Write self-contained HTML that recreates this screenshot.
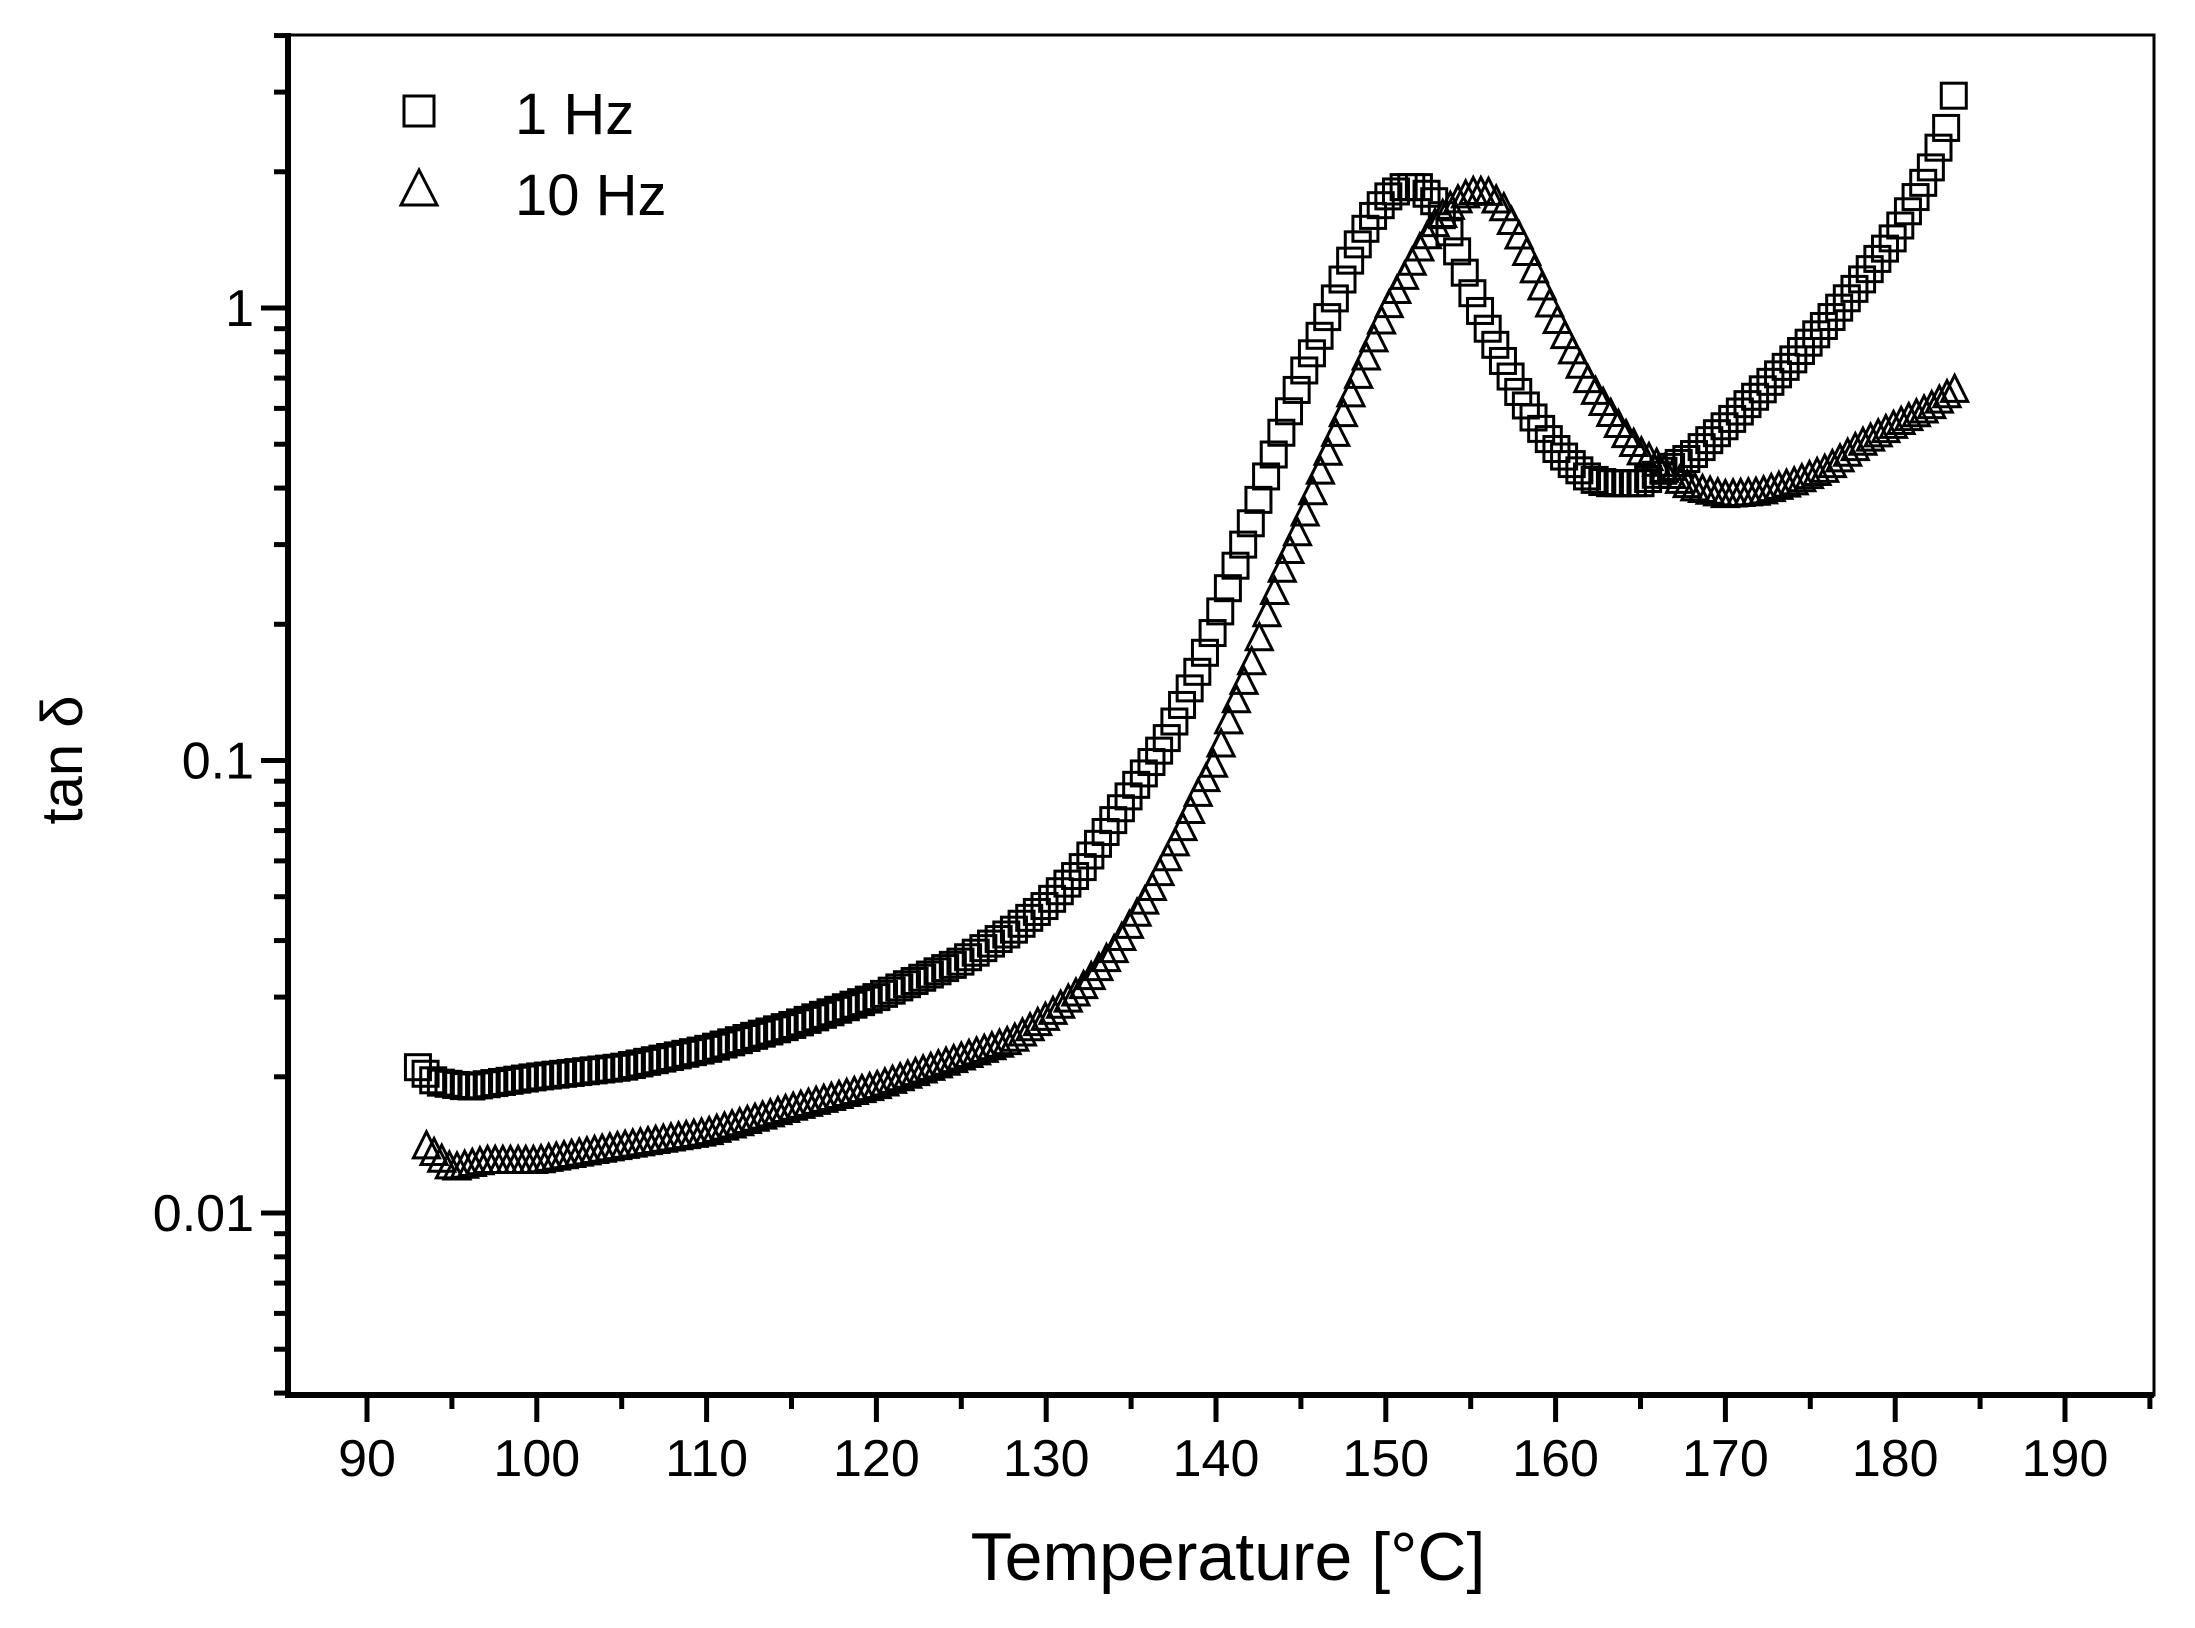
<!DOCTYPE html>
<html><head><meta charset="utf-8"><style>
html,body{margin:0;padding:0;background:#fff;}
svg{display:block;}
text{font-family:"Liberation Sans",Arial,sans-serif;fill:#000;}
</style></head><body>
<svg id="s" width="2195" height="1628" viewBox="0 0 2195 1628" xmlns="http://www.w3.org/2000/svg">
<rect width="2195" height="1628" fill="#fff"/>
<g id="ax"></g>
<g id="data" fill="none" stroke="#000" stroke-width="3"></g>
<rect x="288" y="35" width="1866" height="1360" fill="none" stroke="#000" stroke-width="3"/>
<line x1="288" y1="33" x2="288" y2="1398" stroke="#000" stroke-width="6"/>
<line x1="285" y1="1395" x2="2154" y2="1395" stroke="#000" stroke-width="6"/>
<rect x="404" y="96" width="30" height="30" fill="none" stroke="#000" stroke-width="3"/>
<polygon points="419,170 401,205 437,205" fill="none" stroke="#000" stroke-width="3"/>
<text x="515" y="134" font-size="58">1 Hz</text>
<text x="515" y="215" font-size="58">10 Hz</text>
<text x="1228" y="1580" font-size="68" text-anchor="middle">Temperature [°C]</text>
<text transform="translate(82,760) rotate(-90)" font-size="58" text-anchor="middle">tan δ</text>
</svg>
<script>
function px(t){return 367+(t-90)*16.98;}
function py(v){return 308-Math.log10(v)*452.5;}
var ax=document.getElementById('ax'),h='';
for(var t=85;t<=195;t+=5){var x=px(t);if(x<287||x>2155)continue;var len=(t%10==0)?27:14;h+='<line x1="'+x+'" y1="1395" x2="'+x+'" y2="'+(1395+len)+'" stroke="#000" stroke-width="5"/>';
if(t%10==0&&t>=90&&t<=190)h+='<text x="'+x+'" y="1476" font-size="52" text-anchor="middle">'+t+'</text>';}
var dec=[0.001,0.01,0.1,1];
for(var d=0;d<dec.length;d++)for(var m=1;m<10;m++){var v=dec[d]*m;var y=py(v);if(y>1396||y<34)continue;var len=(m==1)?27:14;
h+='<line x1="'+(288-len)+'" y1="'+y+'" x2="288" y2="'+y+'" stroke="#000" stroke-width="5"/>';
if(m==1)h+='<text x="254" y="'+(y+18)+'" font-size="52" text-anchor="end">'+(dec[d]==1?'1':dec[d])+'</text>';}
ax.innerHTML=h;
var s1=[[93,0.021],[94,0.0195],[96,0.019],[100,0.02],[105,0.021],[110,0.023],[115,0.026],[120,0.03],[125,0.036],[128,0.042],[130,0.048],[132,0.057],[133,0.065],[135,0.085],[137,0.11],[139,0.16],[140,0.2],[141,0.26],[142,0.33],[143,0.43],[144,0.55],[145,0.7],[146,0.85],[147,1.05],[148,1.3],[149,1.55],[150,1.75],[151,1.85],[152,1.85],[153,1.7],[154,1.4],[155,1.1],[156,0.9],[157,0.75],[158,0.63],[159,0.55],[160,0.49],[161,0.45],[162,0.42],[163,0.41],[165,0.41],[166,0.43],[168,0.47],[170,0.55],[172,0.65],[174,0.77],[176,0.93],[178,1.15],[180,1.45],[182,2.0],[183,2.5],[183.5,3.0]];
var s2=[[93.5,0.014],[95,0.0125],[97,0.013],[100,0.013],[105,0.014],[110,0.015],[115,0.017],[120,0.019],[125,0.022],[128,0.024],[130,0.027],[132,0.031],[134,0.038],[136,0.05],[138,0.07],[139,0.085],[140,0.1],[141,0.13],[142,0.16],[143,0.21],[144,0.27],[145,0.33],[146,0.42],[147,0.52],[148,0.65],[149,0.8],[150,0.98],[151,1.15],[152,1.35],[153,1.55],[154,1.7],[155,1.8],[156,1.8],[157,1.65],[158,1.4],[159,1.15],[160,0.95],[161,0.8],[162,0.68],[163,0.6],[164,0.53],[165,0.48],[166,0.45],[167,0.42],[168,0.4],[170,0.385],[172,0.39],[174,0.41],[176,0.44],[178,0.5],[180,0.55],[182,0.6],[183.8,0.67]];
function interp(s,t){for(var i=0;i<s.length-1;i++){if(t>=s[i][0]&&t<=s[i+1][0]){var f=(t-s[i][0])/(s[i+1][0]-s[i][0]);return Math.pow(10,Math.log10(s[i][1])*(1-f)+Math.log10(s[i+1][1])*f);}}return s[s.length-1][1];}
var g='';
for(var t=s1[0][0];t<=s1[s1.length-1][0]+1e-6;t+=0.45){var x=px(t),y=py(interp(s1,t));g+='<rect x="'+(x-12.5)+'" y="'+(y-12.5)+'" width="25" height="25"/>';}
for(var t=s2[0][0];t<=s2[s2.length-1][0]+1e-6;t+=0.45){var x=px(t),y=py(interp(s2,t));g+='<polygon points="'+x+','+(y-15)+' '+(x-13)+','+(y+11)+' '+(x+13)+','+(y+11)+'"/>';}
document.getElementById('data').innerHTML=g;
</script>
</body></html>
